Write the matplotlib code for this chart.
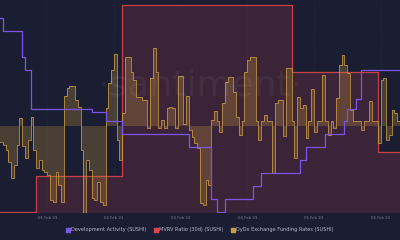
import matplotlib
matplotlib.use("Agg")
import matplotlib.pyplot as plt
from matplotlib.lines import Line2D
import numpy as np
import pandas as pd

# ---------------- data ----------------
start = pd.Timestamp("2023-01-31 07:00")
n_hours = 144
hours = pd.date_range(start, periods=n_hours + 1, freq="h")

# DyDx funding rate (hourly, arbitrary units x1e-4)
funding_rate = [
    -16, -19, -24, -36, -52, -39, -19, 8, -20, -32, -14, 9, -24, -42, -34, -44,
    -46, -49, -74, -76, -46, -59, -76, 30, 38, 40, 40, 26, 19, -24, -87, -34,
    -44, -72, -74, -56, -76, -79, 18, 43, 56, 72, -14, -34, 13, 69, 69, 54,
    46, 29, 29, 26, 26, -2, 48, 78, 54, -2, 6, -2, 18, 19, 18, -2, 50, 50,
    2, 30, -4, -11, -17, -22, -77, -79, -54, -59, 6, 15, 5, -6, 23, 44, 49, 49,
    34, 9, -9, 5, 54, 66, 69, 69, 5, -14, 5, 11, 5, 5, -47, 23, 26, 26,
    -10, 58, 58, 5, -32, 29, 18, 21, -12, 5, 37, -6, 5, 5, 51, 5, -9, 5,
    -2, 28, 61, 71, 61, 53, 16, 5, 5, 5, -4, 5, 5, 25, 5, 5, -17, 46,
    48, -14, -9, 16, 13, 5,
]

# Development activity: (hour offset, value) steps
dev_hours = [0, 1, 8, 9, 11, 33, 38, 44, 68, 76, 78, 81, 91, 94, 108, 110, 117, 124, 125, 128, 130]
dev_values = [30, 28, 24, 22, 16, 15.5, 14, 12, 10, 2, 0, 2, 4, 6, 8, 10, 12, 14, 16, 17.5, 22]

# MVRV ratio (30d), %: (hour offset, value) steps
mvrv_hours = [0, 13, 44, 105, 136]
mvrv_values = [-20.0, -16.4, 0.8, -6.0, -14.0]

tick_labels = ["01 Feb 23", "02 Feb 23", "03 Feb 23", "04 Feb 23", "05 Feb 23", "06 Feb 23"]
legend_labels = ["Development Activity (SUSHI)", "MVRV Ratio (30d) (SUSHI)",
                 "DyDx Exchange Funding Rates (SUSHI)"]

# ---------------- styling ----------------
BG = "#1b1e33"
PURPLE = "#7b55e8"
RED = "#d9434c"
YELLOW = "#c99a3e"
TXT = "#b9bccb"


def step_series(offsets, values):
    s = pd.Series(np.nan, index=range(n_hours + 1), dtype=float)
    for o, v in zip(offsets, values):
        s[o] = v
    return s.ffill().values


fund = np.array(funding_rate + [funding_rate[-1]], dtype=float)
dev = step_series(dev_hours, dev_values)
mvrv = step_series(mvrv_hours, mvrv_values)

fig = plt.figure(figsize=(4, 2.4), dpi=100, facecolor=BG)
ax = fig.add_axes([0, 27 / 240, 1, 213 / 240])
ax.set_facecolor(BG)
ax_y = ax.twinx()
ax_d = ax.twinx()

# MVRV (red area)
ax.fill_between(hours, mvrv, -20.1, step="post", color=RED, alpha=0.17, lw=0)
ax.step(hours, mvrv, where="post", color=RED, lw=0.9, alpha=0.9)
ax.set_ylim(-20.15, 1.3)

# Funding (yellow area to zero)
ax_y.fill_between(hours, fund, 0, step="post", color=YELLOW, alpha=0.27, lw=0)
ax_y.step(hours, fund, where="post", color=YELLOW, lw=0.7, alpha=0.8)
ax_y.set_ylim(-87.5, 126)

# Dev activity (purple line)
ax_d.step(hours, dev, where="post", color=PURPLE, lw=0.9)
ax_d.set_ylim(-0.15, 213 / 6.5)

for a in (ax, ax_y, ax_d):
    a.set_xlim(hours[0], hours[-1])
    for s in a.spines.values():
        s.set_visible(False)
    a.set_yticks([])

ticks = pd.date_range("2023-02-01", periods=len(tick_labels), freq="D")
ax.set_xticks(ticks)
ax.set_xticklabels(tick_labels, fontsize=2.8, color="#7d8197")
ax.tick_params(axis="x", length=0, pad=2.5)
for t in ticks:
    ax.axvline(t, color="#2c3050", lw=0.4, ls=(0, (1, 2)), zorder=0)

# watermark
ax_d.text(0.5, 0.6, "·santiment·", transform=ax_d.transAxes, ha="center", va="center",
          fontsize=26, color="#ffffff", alpha=0.05, zorder=0)

handles = [Line2D([], [], marker="s", ls="", color=c, markersize=2.3)
           for c in (PURPLE, RED, YELLOW)]
fig.legend(handles, legend_labels, loc="center", bbox_to_anchor=(0.5, 10 / 240), ncol=3,
           frameon=False, fontsize=3.6, labelcolor=TXT, handlelength=0.6,
           handletextpad=0.3, columnspacing=1.6)

fig.savefig("out.png", dpi=100, facecolor=BG)
